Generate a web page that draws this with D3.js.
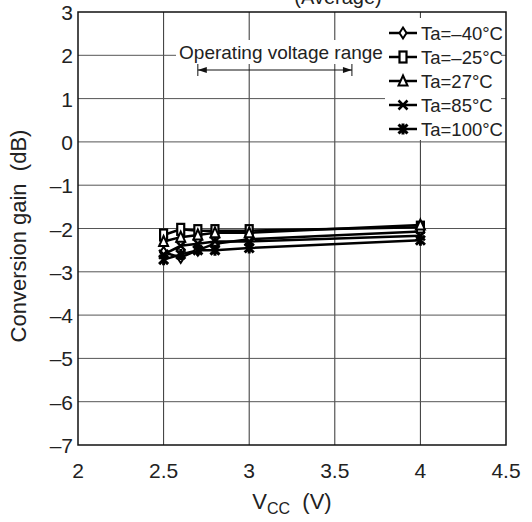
<!DOCTYPE html>
<html>
<head>
<meta charset="utf-8">
<script src="https://cdn.jsdelivr.net/npm/d3@7"></script>
<style>
  body { margin: 0; background: #fff; }
  text { font-family: "Liberation Sans", Arial, sans-serif; fill: #222; }
</style>
</head>
<body>
<svg id="chart" width="532" height="522"></svg>
<script>
const vcc = [2.5, 2.6, 2.7, 2.8, 3.0, 4.0];
const gainM40 = [-2.55, -2.67, -2.5, -2.35, -2.25, -2.07];
const gainM25 = [-2.15, -2.02, -2.05, -2.05, -2.05, -1.97];
const gain27 = [-2.3, -2.2, -2.15, -2.1, -2.1, -1.92];
const gain85 = [-2.6, -2.4, -2.35, -2.3, -2.3, -2.17];
const gain100 = [-2.72, -2.6, -2.5, -2.5, -2.45, -2.27];
const seriesNames = ["Ta=–40°C", "Ta=–25°C", "Ta=27°C", "Ta=85°C", "Ta=100°C"];
const xTicks = [2, 2.5, 3, 3.5, 4, 4.5];
const yTicks = [3, 2, 1, 0, -1, -2, -3, -4, -5, -6, -7];
const opRange = [2.7, 3.6];

const series = [gainM40, gainM25, gain27, gain85, gain100];
const markers = ["diamond", "square", "triangle", "cross", "star"];

const svg = d3.select("#chart");
const mLeft = 78, mRight = 506, mTop = 12, mBottom = 445;

const x = d3.scaleLinear().domain([2, 4.5]).range([mLeft, mRight]);
const y = d3.scaleLinear().domain([-7, 3]).range([mBottom, mTop]);

// title (mostly clipped at top, as in the source)
svg.append("text").attr("x", 338).attr("y", 4).attr("text-anchor", "middle")
  .attr("font-size", 20).text("(Average)");

// grid
svg.append("g").selectAll("line").data(xTicks.slice(1, -1)).join("line")
  .attr("x1", d => x(d)).attr("x2", d => x(d)).attr("y1", mTop).attr("y2", mBottom)
  .attr("stroke", "#333").attr("stroke-width", 1);
svg.append("g").selectAll("line").data(yTicks.slice(1, -1)).join("line")
  .attr("x1", mLeft).attr("x2", mRight).attr("y1", d => y(d)).attr("y2", d => y(d))
  .attr("stroke", "#555").attr("stroke-width", 1);

// white backgrounds for annotation and legend
svg.append("rect").attr("x", 176).attr("y", 40).attr("width", 210).attr("height", 24).attr("fill", "#fff");
svg.append("rect").attr("x", 385).attr("y", 18).attr("width", 116).attr("height", 122).attr("fill", "#fff");

// frame
svg.append("rect").attr("x", mLeft).attr("y", mTop).attr("width", mRight - mLeft).attr("height", mBottom - mTop)
  .attr("fill", "none").attr("stroke", "#111").attr("stroke-width", 1.5);

// tick labels
svg.append("g").selectAll("text").data(xTicks).join("text")
  .attr("x", d => x(d)).attr("y", mBottom + 33).attr("text-anchor", "middle")
  .attr("font-size", 21).text(d => d);
svg.append("g").selectAll("text").data(yTicks).join("text")
  .attr("x", mLeft - 5).attr("y", d => y(d) + 8).attr("text-anchor", "end")
  .attr("font-size", 21).text(d => d < 0 ? "–" + Math.abs(d) : d);

// axis titles
const xt = svg.append("text").attr("x", 292).attr("y", 509).attr("text-anchor", "middle").attr("font-size", 22)
  .attr("xml:space", "preserve");
xt.append("tspan").text("V");
xt.append("tspan").attr("font-size", 16).attr("dy", 5).text("CC");
xt.append("tspan").attr("dy", -5).text("  (V)");
svg.append("text").attr("transform", "translate(26,236) rotate(-90)").attr("text-anchor", "middle")
  .attr("font-size", 22).attr("xml:space", "preserve").text("Conversion gain  (dB)");

// operating voltage range annotation
svg.append("text").attr("x", 281).attr("y", 59).attr("text-anchor", "middle")
  .attr("font-size", 19).text("Operating voltage range");
const ay = 70;
svg.append("line").attr("x1", x(opRange[0])).attr("x2", x(opRange[1])).attr("y1", ay).attr("y2", ay)
  .attr("stroke", "#111").attr("stroke-width", 1);
[[opRange[0], 1], [opRange[1], -1]].forEach(([v, dir]) => {
  const px = x(v);
  svg.append("line").attr("x1", px).attr("x2", px).attr("y1", ay - 6).attr("y2", ay + 6).attr("stroke", "#111");
  svg.append("path").attr("d", `M${px},${ay} l${9 * dir},-3 l0,6 Z`).attr("fill", "#111");
});

// marker drawing
function drawMarker(g, type, cx, cy) {
  const s = 4.5;
  if (type === "diamond") {
    g.append("path").attr("d", `M${cx},${cy - s - 1} L${cx + s - 1},${cy} L${cx},${cy + s + 1} L${cx - s + 1},${cy} Z`)
      .attr("fill", "#fff").attr("stroke", "#000").attr("stroke-width", 2);
  } else if (type === "square") {
    g.append("rect").attr("x", cx - s + 1).attr("y", cy - s - 1).attr("width", 2 * s - 2).attr("height", 2 * s + 2)
      .attr("fill", "#fff").attr("stroke", "#000").attr("stroke-width", 2.2);
  } else if (type === "triangle") {
    g.append("path").attr("d", `M${cx},${cy - s - 1} L${cx + s},${cy + s} L${cx - s},${cy + s} Z`)
      .attr("fill", "#fff").attr("stroke", "#000").attr("stroke-width", 2);
  } else if (type === "cross") {
    g.append("path").attr("d", `M${cx - s},${cy - s} L${cx + s},${cy + s} M${cx + s},${cy - s} L${cx - s},${cy + s}`)
      .attr("stroke", "#000").attr("stroke-width", 2.5);
  } else {
    g.append("path").attr("d", `M${cx - s},${cy - s} L${cx + s},${cy + s} M${cx + s},${cy - s} L${cx - s},${cy + s} M${cx},${cy - s - 1} L${cx},${cy + s + 1}`)
      .attr("stroke", "#000").attr("stroke-width", 3);
  }
}

// data lines
const line = d3.line().x((d, i) => x(vcc[i])).y(d => y(d));
series.forEach((vals) => {
  svg.append("path").datum(vals).attr("d", line)
    .attr("fill", "none").attr("stroke", "#000").attr("stroke-width", 2.5);
});
series.forEach((vals, k) => {
  const g = svg.append("g");
  vals.forEach((v, i) => drawMarker(g, markers[k], x(vcc[i]), y(v)));
});

// legend
seriesNames.forEach((name, k) => {
  const ly = 33 + k * 24;
  svg.append("line").attr("x1", 389).attr("x2", 417).attr("y1", ly).attr("y2", ly)
    .attr("stroke", "#000").attr("stroke-width", 2.5);
  drawMarker(svg.append("g"), markers[k], 403, ly);
  svg.append("text").attr("x", 421).attr("y", ly + 7).attr("font-size", 18.5).text(name);
});
</script>
</body>
</html>
